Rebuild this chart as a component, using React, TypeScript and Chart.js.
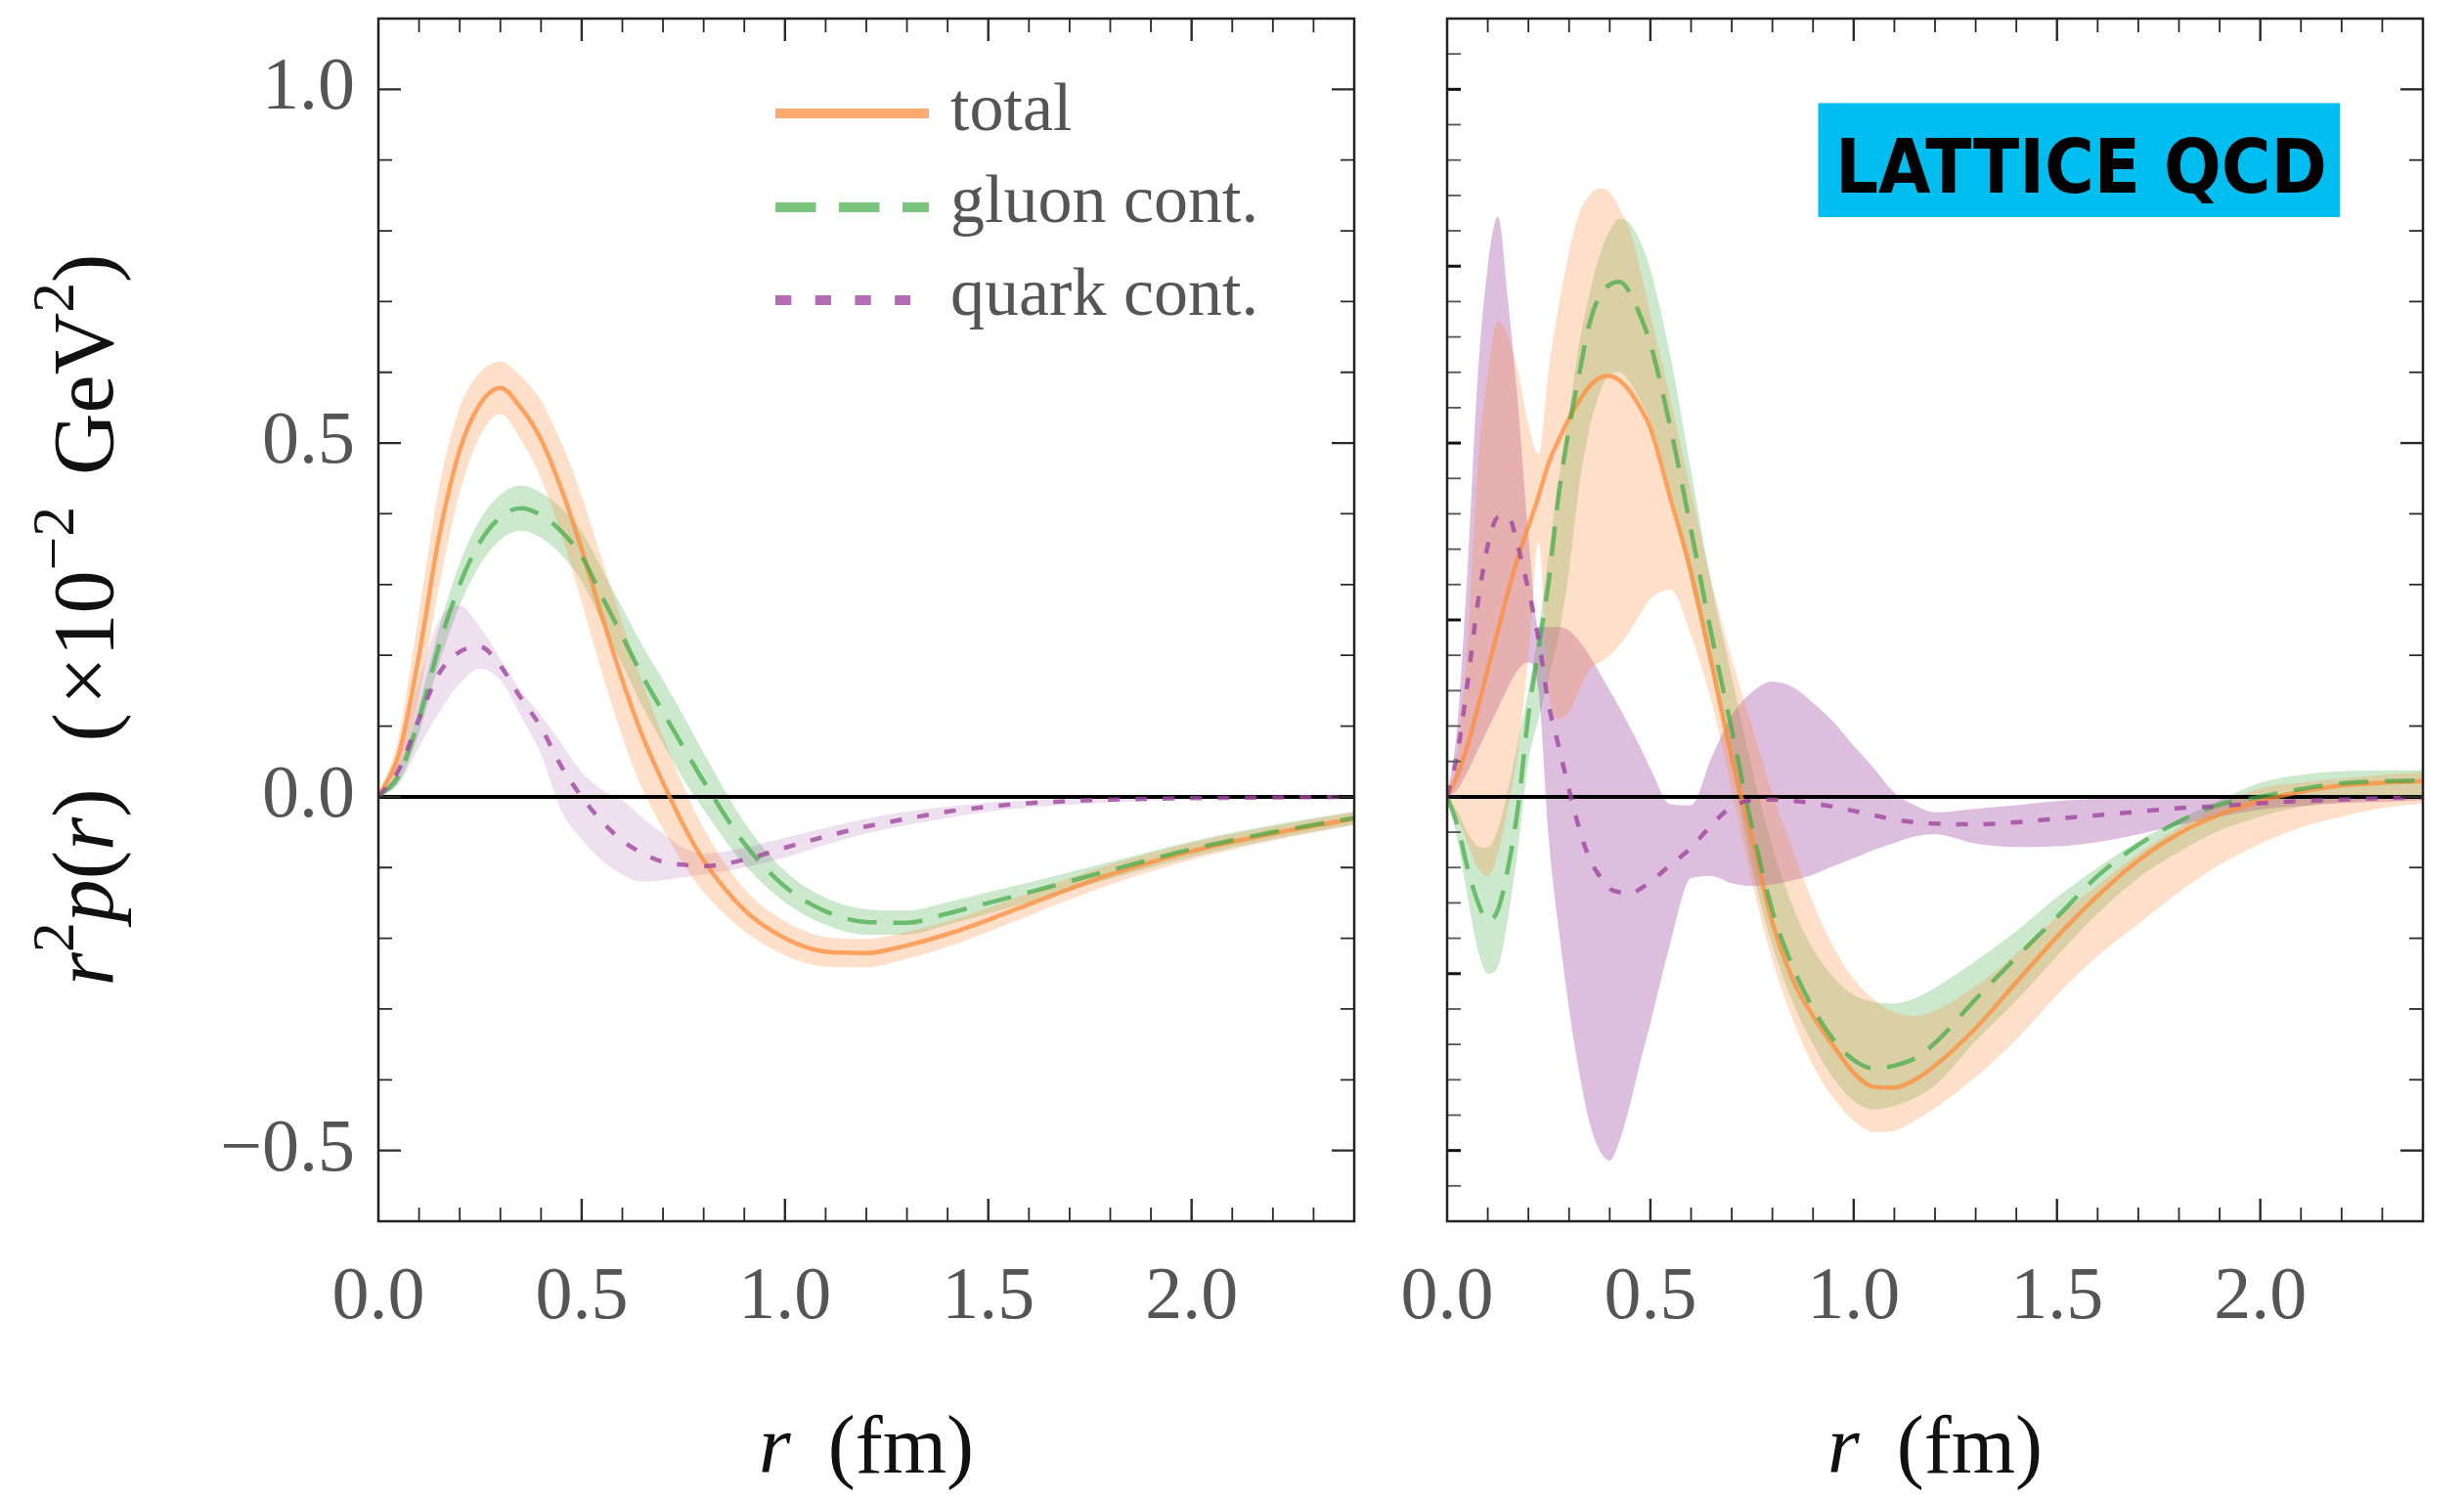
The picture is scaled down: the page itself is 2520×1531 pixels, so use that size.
import React, { useEffect, useRef } from "react";
import { Chart, registerables } from "chart.js";
Chart.register(...registerables);

// ---------------- data: left panel ----------------
const rL = [0, 0.05, 0.1, 0.15, 0.2, 0.25, 0.3, 0.35, 0.4, 0.45, 0.5, 0.55, 0.6, 0.65, 0.7, 0.75, 0.8, 0.9, 1.0, 1.1, 1.2, 1.3, 1.4, 1.5, 1.6, 1.8, 2.0, 2.2, 2.4];
const totalL = [0, 0.06, 0.2, 0.37, 0.49, 0.555, 0.578, 0.55, 0.505, 0.435, 0.35, 0.255, 0.165, 0.085, 0.02, -0.04, -0.09, -0.16, -0.2, -0.219, -0.221, -0.21, -0.194, -0.174, -0.152, -0.11, -0.077, -0.052, -0.031];
const totalHiL = [0, 0.085, 0.26, 0.44, 0.55, 0.6, 0.615, 0.595, 0.56, 0.5, 0.425, 0.335, 0.245, 0.16, 0.085, 0.015, -0.045, -0.13, -0.176, -0.198, -0.201, -0.191, -0.176, -0.157, -0.136, -0.096, -0.065, -0.042, -0.022];
const totalLoL = [0, 0.035, 0.14, 0.3, 0.43, 0.51, 0.541, 0.505, 0.45, 0.37, 0.275, 0.175, 0.085, 0.01, -0.045, -0.095, -0.135, -0.19, -0.224, -0.24, -0.241, -0.229, -0.212, -0.191, -0.168, -0.124, -0.089, -0.062, -0.04];
const gluonL = [0, 0.03, 0.11, 0.215, 0.3, 0.36, 0.395, 0.408, 0.398, 0.375, 0.34, 0.283, 0.227, 0.17, 0.12, 0.07, 0.022, -0.066, -0.127, -0.162, -0.177, -0.178, -0.165, -0.15, -0.135, -0.104, -0.074, -0.05, -0.03];
const gluonHiL = [0, 0.04, 0.13, 0.24, 0.33, 0.392, 0.427, 0.44, 0.43, 0.408, 0.375, 0.321, 0.267, 0.213, 0.165, 0.115, 0.062, -0.036, -0.105, -0.143, -0.159, -0.161, -0.149, -0.135, -0.121, -0.092, -0.063, -0.04, -0.021];
const gluonLoL = [0, 0.02, 0.09, 0.19, 0.27, 0.328, 0.363, 0.376, 0.366, 0.342, 0.305, 0.245, 0.187, 0.127, 0.075, 0.025, -0.018, -0.096, -0.149, -0.181, -0.195, -0.195, -0.181, -0.165, -0.149, -0.116, -0.085, -0.06, -0.039];
const quarkL = [0, 0.038, 0.11, 0.175, 0.205, 0.212, 0.185, 0.14, 0.098, 0.043, 0, -0.035, -0.062, -0.08, -0.092, -0.096, -0.098, -0.089, -0.072, -0.056, -0.042, -0.031, -0.021, -0.014, -0.009, -0.004, -0.002, -0.001, 0];
const quarkHiL = [0, 0.06, 0.165, 0.25, 0.27, 0.24, 0.195, 0.15, 0.115, 0.075, 0.035, 0.01, -0.005, -0.03, -0.052, -0.072, -0.08, -0.072, -0.058, -0.044, -0.031, -0.021, -0.014, -0.008, -0.005, -0.002, 0, 0, 0];
const quarkLoL = [0, 0.018, 0.07, 0.12, 0.16, 0.181, 0.165, 0.115, 0.06, -0.02, -0.06, -0.09, -0.11, -0.12, -0.118, -0.114, -0.11, -0.1, -0.086, -0.068, -0.052, -0.04, -0.03, -0.021, -0.015, -0.008, -0.004, -0.002, -0.001];

// ---------------- data: right panel (lattice QCD) ----------------
const rR = [0, 0.025, 0.05, 0.075, 0.1, 0.125, 0.15, 0.175, 0.2, 0.225, 0.25, 0.275, 0.3, 0.325, 0.35, 0.375, 0.4, 0.425, 0.45, 0.475, 0.5, 0.55, 0.6, 0.65, 0.7, 0.75, 0.8, 0.85, 0.9, 0.95, 1.0, 1.05, 1.1, 1.15, 1.2, 1.3, 1.4, 1.5, 1.6, 1.7, 1.8, 1.9, 2.0, 2.1, 2.2, 2.3, 2.4];
const totalR = [0, 0.03, 0.072, 0.125, 0.18, 0.235, 0.29, 0.34, 0.382, 0.425, 0.472, 0.505, 0.535, 0.56, 0.58, 0.592, 0.595, 0.588, 0.573, 0.55, 0.521, 0.42, 0.317, 0.19, 0.055, -0.06, -0.178, -0.258, -0.31, -0.352, -0.39, -0.41, -0.411, -0.4, -0.38, -0.327, -0.262, -0.198, -0.14, -0.09, -0.052, -0.025, -0.006, 0.007, 0.016, 0.02, 0.022];
const totalHiR = [0, 0.06, 0.22, 0.465, 0.6, 0.673, 0.65, 0.6, 0.525, 0.485, 0.605, 0.695, 0.77, 0.825, 0.85, 0.86, 0.855, 0.83, 0.8, 0.745, 0.682, 0.56, 0.43, 0.305, 0.195, 0.1, 0.005, -0.075, -0.15, -0.212, -0.258, -0.287, -0.305, -0.31, -0.302, -0.268, -0.222, -0.17, -0.125, -0.08, -0.043, -0.012, 0.012, 0.02, 0.026, 0.031, 0.035];
const totalLoR = [0, -0.03, -0.065, -0.1, -0.112, -0.08, -0.015, 0.07, 0.2, 0.36, 0.15, 0.11, 0.12, 0.15, 0.18, 0.19, 0.2, 0.215, 0.235, 0.258, 0.28, 0.293, 0.228, 0.135, 0.01, -0.12, -0.231, -0.315, -0.38, -0.426, -0.458, -0.474, -0.472, -0.458, -0.44, -0.396, -0.343, -0.28, -0.225, -0.18, -0.135, -0.096, -0.066, -0.043, -0.028, -0.016, -0.009];
const gluonR = [0, -0.04, -0.1, -0.148, -0.175, -0.16, -0.1, -0.012, 0.116, 0.21, 0.305, 0.43, 0.521, 0.598, 0.668, 0.708, 0.724, 0.728, 0.712, 0.68, 0.64, 0.52, 0.377, 0.23, 0.095, -0.043, -0.161, -0.24, -0.299, -0.343, -0.372, -0.384, -0.38, -0.37, -0.348, -0.286, -0.227, -0.17, -0.112, -0.068, -0.035, -0.011, 0, 0.011, 0.019, 0.022, 0.023];
const gluonHiR = [0, -0.02, -0.05, -0.07, -0.072, -0.045, 0.01, 0.08, 0.15, 0.235, 0.345, 0.45, 0.545, 0.64, 0.71, 0.765, 0.8, 0.817, 0.81, 0.785, 0.745, 0.62, 0.46, 0.3, 0.17, 0.04, -0.07, -0.155, -0.215, -0.255, -0.28, -0.29, -0.292, -0.285, -0.27, -0.232, -0.19, -0.142, -0.1, -0.063, -0.032, -0.005, 0.02, 0.031, 0.036, 0.037, 0.038];
const gluonLoR = [0, -0.06, -0.14, -0.215, -0.25, -0.24, -0.17, -0.07, 0.05, 0.11, 0.17, 0.23, 0.32, 0.44, 0.52, 0.57, 0.598, 0.6, 0.585, 0.56, 0.53, 0.43, 0.3, 0.175, 0.045, -0.1, -0.21, -0.29, -0.35, -0.398, -0.43, -0.442, -0.437, -0.426, -0.408, -0.345, -0.288, -0.225, -0.165, -0.115, -0.078, -0.048, -0.028, -0.014, -0.007, -0.003, -0.001];
const quarkR = [0, 0.06, 0.16, 0.272, 0.355, 0.395, 0.396, 0.352, 0.292, 0.222, 0.13, 0.07, 0.01, -0.045, -0.087, -0.112, -0.13, -0.135, -0.137, -0.13, -0.12, -0.096, -0.072, -0.04, -0.014, -0.005, -0.004, -0.006, -0.009, -0.014, -0.02, -0.026, -0.032, -0.036, -0.038, -0.039, -0.036, -0.031, -0.026, -0.021, -0.016, -0.013, -0.009, -0.006, -0.004, -0.002, -0.001];
const quarkHiR = [0, 0.1, 0.32, 0.59, 0.75, 0.82, 0.7, 0.55, 0.37, 0.24, 0.24, 0.24, 0.235, 0.22, 0.2, 0.175, 0.15, 0.125, 0.098, 0.07, 0.04, -0.011, -0.012, 0.055, 0.115, 0.148, 0.163, 0.155, 0.133, 0.106, 0.072, 0.04, 0.006, -0.012, -0.022, -0.017, -0.012, -0.006, -0.003, -0.002, -0.001, 0, 0, 0, 0, 0, 0];
const quarkLoR = [0, 0.01, 0.035, 0.065, 0.095, 0.125, 0.155, 0.18, 0.19, 0.15, -0.06, -0.19, -0.3, -0.39, -0.46, -0.5, -0.514, -0.485, -0.435, -0.375, -0.32, -0.205, -0.115, -0.112, -0.122, -0.126, -0.124, -0.118, -0.11, -0.098, -0.087, -0.075, -0.065, -0.056, -0.053, -0.066, -0.071, -0.07, -0.064, -0.053, -0.04, -0.028, -0.018, -0.013, -0.009, -0.007, -0.005];

// ---------------- axes / labels ----------------
const xTickValues = [0, 0.5, 1.0, 1.5, 2.0];
const yTickValues = [-0.5, 0, 0.5, 1.0];
const legendLabels = ["total", "gluon cont.", "quark cont."];
const badgeText = "LATTICE QCD";
const X_MIN = 0, X_MAX = 2.4, Y_MIN = -0.6, Y_MAX = 1.1;

// ---------------- styles ----------------
const SERIF = '"Liberation Serif", "DejaVu Serif", serif';
const ORANGE_LINE = "rgba(253,141,60,0.75)";
const ORANGE_BAND = "rgba(253,141,60,0.28)";
const GREEN_LINE = "rgba(65,171,70,0.7)";
const GREEN_BAND = "rgba(65,171,70,0.27)";
const PURPLE_LINE = "rgba(160,70,160,0.8)";
const PURPLE_BAND_L = "rgba(160,70,160,0.17)";
const PURPLE_BAND_R = "rgba(160,70,160,0.35)";
const TRANSPARENT = "rgba(0,0,0,0)";

const CANVAS_H = 1531;
const LEFT_W = 1432;
const RIGHT_W = 1088;
const RIGHT_OFFSET = 1432;

const pts = (xs: number[], ys: number[]) => xs.map((x, i) => ({ x, y: ys[i] }));
const fmt = (v: number) => (v < 0 ? "\u2212" + Math.abs(v).toFixed(1) : Math.abs(v).toFixed(1));

// Draw order: Chart.js draws higher "order" first. Green band, then purple band,
// then orange band on top of both; then zero line; then the three curves.
function buildDatasets(xs: number[], t: number[], tHi: number[], tLo: number[], g: number[], gHi: number[], gLo: number[], q: number[], qHi: number[], qLo: number[], quarkBand: string) {
  const base: any = { pointRadius: 0, pointHoverRadius: 0, cubicInterpolationMode: "monotone", borderWidth: 1, borderColor: TRANSPARENT };
  return [
    { ...base, label: "total band", data: pts(xs, tHi), fill: "+1", backgroundColor: ORANGE_BAND, order: 7 },
    { ...base, label: "total band lo", data: pts(xs, tLo), fill: false, order: 7 },
    { ...base, label: "gluon band", data: pts(xs, gHi), fill: "+1", backgroundColor: GREEN_BAND, order: 9 },
    { ...base, label: "gluon band lo", data: pts(xs, gLo), fill: false, order: 9 },
    { ...base, label: "quark band", data: pts(xs, qHi), fill: "+1", backgroundColor: quarkBand, order: 8 },
    { ...base, label: "quark band lo", data: pts(xs, qLo), fill: false, order: 8 },
    { label: "zero", data: [{ x: X_MIN, y: 0 }, { x: X_MAX, y: 0 }], borderColor: "#000", borderWidth: 4, pointRadius: 0, fill: false, order: 6 },
    { ...base, label: legendLabels[0], data: pts(xs, t), borderColor: ORANGE_LINE, borderWidth: 4.5, fill: false, order: 5 },
    { ...base, label: legendLabels[1], data: pts(xs, g), borderColor: GREEN_LINE, borderWidth: 4.5, borderDash: [30, 17], fill: false, order: 4 },
    { ...base, label: legendLabels[2], data: pts(xs, q), borderColor: PURPLE_LINE, borderWidth: 4.5, borderDash: [12, 16], fill: false, order: 3 },
  ];
}

type Run = { text: string; size: number; italic?: boolean; dy?: number; gap?: number };

function drawRuns(ctx: CanvasRenderingContext2D, runs: Run[], cx: number, baseline: number) {
  const fontOf = (r: Run) => `${r.italic ? "italic " : ""}${r.size}px ${SERIF}`;
  let total = 0;
  const widths = runs.map((r) => {
    if (r.gap) return r.gap;
    ctx.font = fontOf(r);
    return ctx.measureText(r.text).width;
  });
  widths.forEach((w) => (total += w));
  let x = cx - total / 2;
  ctx.textAlign = "left";
  ctx.textBaseline = "alphabetic";
  runs.forEach((r, i) => {
    if (!r.gap) {
      ctx.font = fontOf(r);
      ctx.fillText(r.text, x, baseline + (r.dy || 0));
    }
    x += widths[i];
  });
}

function drawTicks(chart: any, panel: "left" | "right") {
  const { ctx, chartArea: a, scales } = chart;
  const xs = scales.x, ys = scales.y;
  ctx.save();
  ctx.strokeStyle = "#2a2a2a";
  ctx.lineCap = "butt";
  for (let i = 1; i < 24; i++) {
    const v = i / 10;
    const px = xs.getPixelForValue(v);
    const major = i % 5 === 0;
    const len = major ? 23 : 14;
    ctx.lineWidth = major ? 2.4 : 1.8;
    ctx.beginPath();
    ctx.moveTo(px, a.bottom); ctx.lineTo(px, a.bottom - len);
    ctx.moveTo(px, a.top); ctx.lineTo(px, a.top + len);
    ctx.stroke();
  }
  for (let i = -5; i <= 10; i++) {
    const v = i / 10;
    const py = ys.getPixelForValue(v);
    const major = i % 5 === 0;
    const len = major ? 23 : 14;
    ctx.lineWidth = major ? 2.4 : 1.8;
    ctx.beginPath();
    ctx.moveTo(a.right, py); ctx.lineTo(a.right - len, py);
    if (panel === "left") { ctx.moveTo(a.left, py); ctx.lineTo(a.left + len, py); }
    ctx.stroke();
  }
  if (panel === "right") {
    for (let i = -11; i <= 21; i++) {
      const v = i / 20;
      const py = ys.getPixelForValue(v);
      const major = i % 5 === 0;
      ctx.lineWidth = major ? 3 : 1.8;
      ctx.strokeStyle = major ? "#111" : "#555";
      ctx.beginPath();
      ctx.moveTo(a.left, py); ctx.lineTo(a.left + 14, py);
      ctx.stroke();
    }
  }
  ctx.strokeStyle = "#222";
  ctx.lineWidth = 2.5;
  ctx.strokeRect(a.left, a.top, a.right - a.left, a.bottom - a.top);
  ctx.restore();
}

function makePlugin(panel: "left" | "right") {
  return {
    id: "decor_" + panel,
    afterDatasetsDraw(chart: any) {
      drawTicks(chart, panel);
    },
    afterDraw(chart: any) {
      const { ctx, chartArea: a } = chart;
      ctx.save();
      ctx.fillStyle = "#111";
      drawRuns(ctx, [
        { text: "r", size: 84, italic: true },
        { text: "", size: 84, gap: 38 },
        { text: "(fm)", size: 84 },
      ], (a.left + a.right) / 2, 1506);

      if (panel === "left") {
        ctx.save();
        ctx.translate(115, (a.top + a.bottom) / 2);
        ctx.rotate(-Math.PI / 2);
        const F = 88;
        drawRuns(ctx, [
          { text: "r", size: F, italic: true },
          { text: "2", size: F * 0.7, dy: -F * 0.45 },
          { text: "p", size: F, italic: true },
          { text: "(", size: F },
          { text: "r", size: F, italic: true },
          { text: ")", size: F },
          { text: "", size: F, gap: 48 },
          { text: "(", size: F },
          { text: "", size: F, gap: 8 },
          { text: "\u00d7", size: F },
          { text: "10", size: F },
          { text: "\u22122", size: F * 0.7, dy: -F * 0.45 },
          { text: "", size: F, gap: 32 },
          { text: "GeV", size: F },
          { text: "2", size: F * 0.7, dy: -F * 0.45 },
          { text: ")", size: F },
        ], 0, 0);
        ctx.restore();

        const lx0 = 793, lx1 = 950, tx = 972;
        const rows = [
          { y: 116, base: 133, color: ORANGE_LINE, dash: [] as number[] },
          { y: 212, base: 227, color: GREEN_LINE, dash: [41.5, 23.5] },
          { y: 307, base: 322, color: PURPLE_LINE, dash: [16.3, 24.4] },
        ];
        rows.forEach((r, i) => {
          ctx.save();
          ctx.strokeStyle = r.color;
          ctx.lineWidth = 10;
          ctx.lineCap = "butt";
          ctx.setLineDash(r.dash);
          ctx.beginPath();
          ctx.moveTo(lx0, r.y);
          ctx.lineTo(i === 2 ? 931 : lx1, r.y);
          ctx.stroke();
          ctx.restore();
          ctx.fillStyle = "#555";
          ctx.font = `70px ${SERIF}`;
          ctx.textAlign = "left";
          ctx.textBaseline = "alphabetic";
          ctx.fillText(legendLabels[i], tx, r.base);
        });
      } else {
        const bx = 1859.5 - RIGHT_OFFSET;
        ctx.fillStyle = "#00BEF0";
        ctx.fillRect(bx, 105.5, 533.5, 116.5);
        ctx.fillStyle = "#000";
        ctx.font = `bold 76px "DejaVu Sans", sans-serif`;
        ctx.textAlign = "left";
        ctx.textBaseline = "alphabetic";
        ctx.fillText(badgeText, 1877 - RIGHT_OFFSET, 196.5, 503);
      }
      ctx.restore();
    },
  };
}

function makeConfig(panel: "left" | "right"): any {
  const isLeft = panel === "left";
  const datasets = isLeft
    ? buildDatasets(rL, totalL, totalHiL, totalLoL, gluonL, gluonHiL, gluonLoL, quarkL, quarkHiL, quarkLoL, PURPLE_BAND_L)
    : buildDatasets(rR, totalR, totalHiR, totalLoR, gluonR, gluonHiR, gluonLoR, quarkR, quarkHiR, quarkLoR, PURPLE_BAND_R);
  const tickFont = { family: SERIF, size: 76, lineHeight: 1.2 };
  return {
    type: "line",
    data: { datasets },
    options: {
      responsive: false,
      maintainAspectRatio: false,
      animation: false,
      devicePixelRatio: 1,
      events: [],
      layout: { padding: isLeft ? { left: 0, right: LEFT_W - 1385, top: 19, bottom: 0 } : { left: 1480 - RIGHT_OFFSET, right: RIGHT_W - (2478 - RIGHT_OFFSET), top: 19, bottom: 0 } },
      plugins: { legend: { display: false }, tooltip: { enabled: false }, filler: { propagate: false } },
      scales: {
        x: {
          type: "linear",
          min: X_MIN,
          max: X_MAX,
          position: "bottom",
          grid: { display: false, drawTicks: false },
          border: { display: false },
          afterBuildTicks: (s: any) => { s.ticks = xTickValues.map((v) => ({ value: v })); },
          ticks: { callback: (v: any) => fmt(Number(v)), font: tickFont, color: "#555", padding: 33, maxRotation: 0, minRotation: 0, autoSkip: false },
          afterFit: (s: any) => { s.height = 282; s.paddingLeft = 0; s.paddingRight = 0; s.paddingTop = 0; s.paddingBottom = 0; },
        },
        y: {
          type: "linear",
          min: Y_MIN,
          max: Y_MAX,
          position: "left",
          display: isLeft,
          grid: { display: false, drawTicks: false },
          border: { display: false },
          afterBuildTicks: (s: any) => { s.ticks = yTickValues.map((v) => ({ value: v })); },
          ticks: { callback: (v: any) => fmt(Number(v)), font: tickFont, color: "#555", padding: 24, autoSkip: false },
          afterFit: (s: any) => { if (isLeft) s.width = 387; s.paddingTop = 0; s.paddingBottom = 0; s.paddingLeft = 0; s.paddingRight = 0; },
        },
      },
    },
    plugins: [makePlugin(panel)],
  };
}

export default function App() {
  const leftRef = useRef<HTMLCanvasElement | null>(null);
  const rightRef = useRef<HTMLCanvasElement | null>(null);
  useEffect(() => {
    const charts: Chart[] = [];
    if (leftRef.current) charts.push(new Chart(leftRef.current, makeConfig("left")));
    if (rightRef.current) charts.push(new Chart(rightRef.current, makeConfig("right")));
    return () => charts.forEach((c) => c.destroy());
  }, []);
  return (
    <div style={{ position: "fixed", left: 0, top: 0, width: 2520, height: CANVAS_H, background: "#fff" }}>
      <canvas ref={leftRef} width={LEFT_W} height={CANVAS_H} style={{ position: "absolute", left: 0, top: 0, width: LEFT_W, height: CANVAS_H }} />
      <canvas ref={rightRef} width={RIGHT_W} height={CANVAS_H} style={{ position: "absolute", left: RIGHT_OFFSET, top: 0, width: RIGHT_W, height: CANVAS_H }} />
    </div>
  );
}
